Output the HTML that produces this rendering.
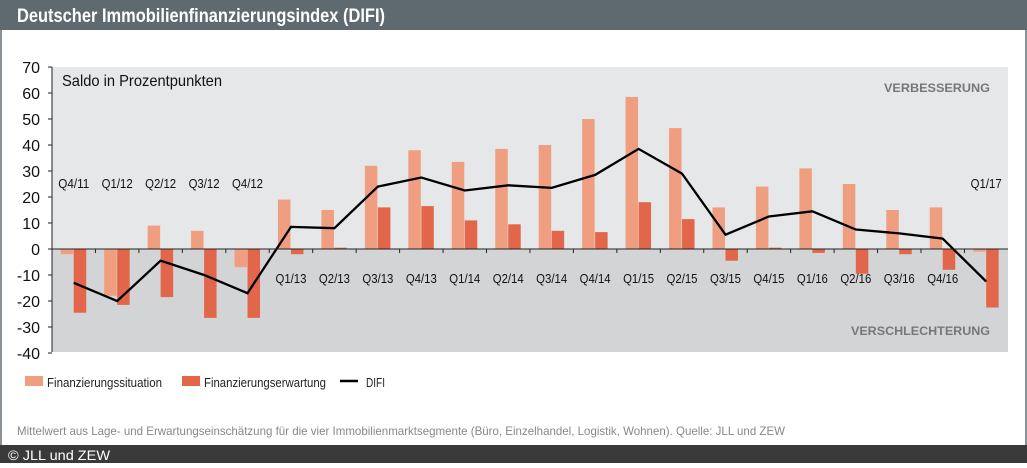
<!DOCTYPE html>
<html><head><meta charset="utf-8"><style>
body{margin:0;width:1027px;height:463px;overflow:hidden;background:#fff;font-family:"Liberation Sans",Arial,sans-serif}
</style></head><body>
<svg width="1027" height="463" xmlns="http://www.w3.org/2000/svg" font-family="Liberation Sans, Arial, sans-serif">
<rect x="0" y="0" width="1027" height="463" fill="#fff"/>
<rect x="0" y="0" width="1027" height="30" fill="#5f6a70"/>
<text x="17" y="22" fill="#fff" font-size="19" font-weight="bold" textLength="368" lengthAdjust="spacingAndGlyphs">Deutscher Immobilienfinanzierungsindex (DIFI)</text>
<rect x="0" y="30" width="2" height="415" fill="#8a9296"/>
<rect x="1025" y="30" width="2" height="415" fill="#8a9296"/>
<rect x="52" y="67" width="956" height="182" fill="#e6e7e8"/>
<rect x="52" y="249" width="956" height="103" fill="#d3d4d6"/>
<g id="g"></g>
<text x="62" y="86" font-size="16" fill="#111" textLength="160" lengthAdjust="spacingAndGlyphs">Saldo in Prozentpunkten</text>
<text x="990" y="92" font-size="12" fill="#777" text-anchor="end" font-weight="bold" textLength="106" lengthAdjust="spacingAndGlyphs">VERBESSERUNG</text>
<text x="990" y="335" font-size="12" fill="#777" text-anchor="end" font-weight="bold" textLength="139" lengthAdjust="spacingAndGlyphs">VERSCHLECHTERUNG</text>
<rect x="25" y="376" width="18" height="10" fill="#ef9f80"/>
<text x="47" y="387" font-size="13" fill="#222" textLength="115" lengthAdjust="spacingAndGlyphs">Finanzierungssituation</text>
<rect x="182" y="376" width="18" height="10" fill="#e2674a"/>
<text x="204" y="387" font-size="13" fill="#222" textLength="122" lengthAdjust="spacingAndGlyphs">Finanzierungserwartung</text>
<line x1="340" y1="381" x2="358" y2="381" stroke="#000" stroke-width="2.5"/>
<text x="366" y="387" font-size="13" fill="#222" textLength="19" lengthAdjust="spacingAndGlyphs">DIFI</text>
<text x="17" y="435" font-size="12" fill="#888" textLength="768" lengthAdjust="spacingAndGlyphs">Mittelwert aus Lage- und Erwartungseinschätzung für die vier Immobilienmarktsegmente (Büro, Einzelhandel, Logistik, Wohnen). Quelle: JLL und ZEW</text>
<rect x="0" y="445" width="1027" height="18" fill="#3a3a3a"/>
<text x="8" y="460" font-size="14" fill="#fff" textLength="102" lengthAdjust="spacingAndGlyphs">© JLL und ZEW</text>
</svg>
<script>
var s=[-2,-18,9,7,-7,19,15,32,38,33.5,38.5,40,50,58.5,46.5,16,24,31,25,15,16,-1];
var e=[-24.5,-21.5,-18.5,-26.5,-26.5,-2,0.5,16,16.5,11,9.5,7,6.5,18,11.5,-4.5,0.5,-1.5,-9.5,-2,-8,-22.5];
var d=[-13,-20,-4.5,-10,-17,8.5,8,24,27.5,22.5,24.5,23.5,28.5,38.5,29,5.5,12.5,14.5,7.5,6,4,-12.5];
var L=["Q4/11","Q1/12","Q2/12","Q3/12","Q4/12","Q1/13","Q2/13","Q3/13","Q4/13","Q1/14","Q2/14","Q3/14","Q4/14","Q1/15","Q2/15","Q3/15","Q4/15","Q1/16","Q2/16","Q3/16","Q4/16","Q1/17"];
var Y=function(v){return 249-v*2.6;};
var h="",w=43.45,pts=[];
for(var i=0;i<22;i++){var c=52+w*(i+0.5);
function bar(x,v,col){var y1=Y(Math.max(v,0)),y2=Y(Math.min(v,0));h+='<rect x="'+x+'" y="'+y1+'" width="12.5" height="'+(y2-y1)+'" fill="'+col+'"/>';}
bar(c-13,s[i],"#ef9f80");bar(c,e[i],"#e2674a");
pts.push(c.toFixed(1)+","+Y(d[i]).toFixed(1));
var ly=(i<5||i==21)?188:283;
h+='<text x="'+c+'" y="'+ly+'" font-size="13" text-anchor="middle" fill="#111" textLength="31" lengthAdjust="spacingAndGlyphs">'+L[i]+'</text>';
if(i>0)h+='<line x1="'+(52+w*i)+'" y1="249" x2="'+(52+w*i)+'" y2="253" stroke="#222"/>';}
h+='<polyline points="'+pts.join(" ")+'" fill="none" stroke="#000" stroke-width="2.3"/>';
h+='<line x1="52" y1="67" x2="52" y2="352" stroke="#222"/><line x1="52" y1="249" x2="1008" y2="249" stroke="#222"/>';
for(var v=-40;v<=70;v+=10){h+='<line x1="48" y1="'+Y(v)+'" x2="52" y2="'+Y(v)+'" stroke="#222"/><text x="40" y="'+(Y(v)+6)+'" font-size="16" text-anchor="end" fill="#111">'+v+'</text>';}
document.getElementById("g").innerHTML=h;
</script>
</body></html>
